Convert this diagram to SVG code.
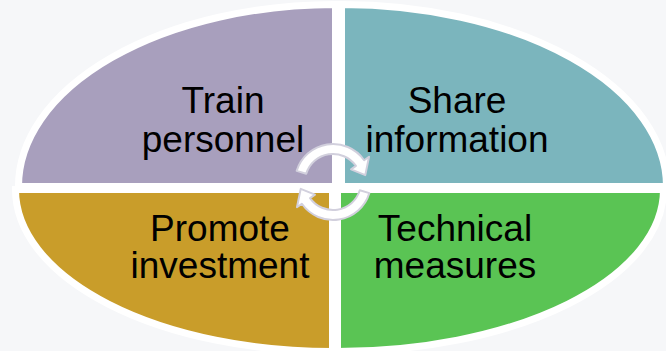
<svg xmlns="http://www.w3.org/2000/svg" width="666" height="351" viewBox="0 0 666 351">
<style>
.q{stroke:#ffffff;stroke-width:7;stroke-linejoin:miter}
.t{font-family:"Liberation Sans",Arial,sans-serif;font-size:37px;fill:#000000;text-anchor:middle}
.arr{fill:#ffffff;stroke:#d2d0dd;stroke-width:2;stroke-linejoin:round}
</style>
<rect width="666" height="351" fill="#f6f7f9"/>
<g id="train-personnel">
<path class="q" fill="#a89fbd" d="M335.5 186.5 L18.5 186.5 A317 182 0 0 1 335.5 4.5 Z"/>
<text class="t" x="223" y="113">Train</text>
<text class="t" x="223" y="152">personnel</text>
</g>
<g id="share-information">
<path class="q" fill="#7bb5bd" d="M341.5 186.5 L341.5 4.5 A325 182 0 0 1 666.5 186.5 Z"/>
<text class="t" x="457" y="113">Share</text>
<text class="t" x="457" y="152">information</text>
</g>
<g id="promote-investment">
<path class="q" fill="#c99d2a" d="M332.5 189.5 L332.5 351.5 A317 162 0 0 1 15.5 189.5 Z"/>
<text class="t" x="220" y="241">Promote</text>
<text class="t" x="220" y="278">investment</text>
</g>
<g id="technical-measures">
<path class="q" fill="#5ac454" d="M337.5 189.5 L663.5 189.5 A326 162 0 0 1 337.5 351.5 Z"/>
<text class="t" x="455" y="241">Technical</text>
<text class="t" x="455" y="278">measures</text>
</g>
<g id="connectors">
<path class="arr" d="M296.66 170.89 A38 38 0 0 1 364.13 160.2 L369.04 156.76 L365.28 175.14 L351.02 169.38 L355.94 165.94 A28 28 0 0 0 306.22 173.81 Z"/>
<path class="arr" d="M369.34 193.11 A38 38 0 0 1 301.87 203.8 L296.96 207.24 L300.72 188.86 L314.98 194.62 L310.06 198.06 A28 28 0 0 0 359.78 190.19 Z"/>
</g>
</svg>
